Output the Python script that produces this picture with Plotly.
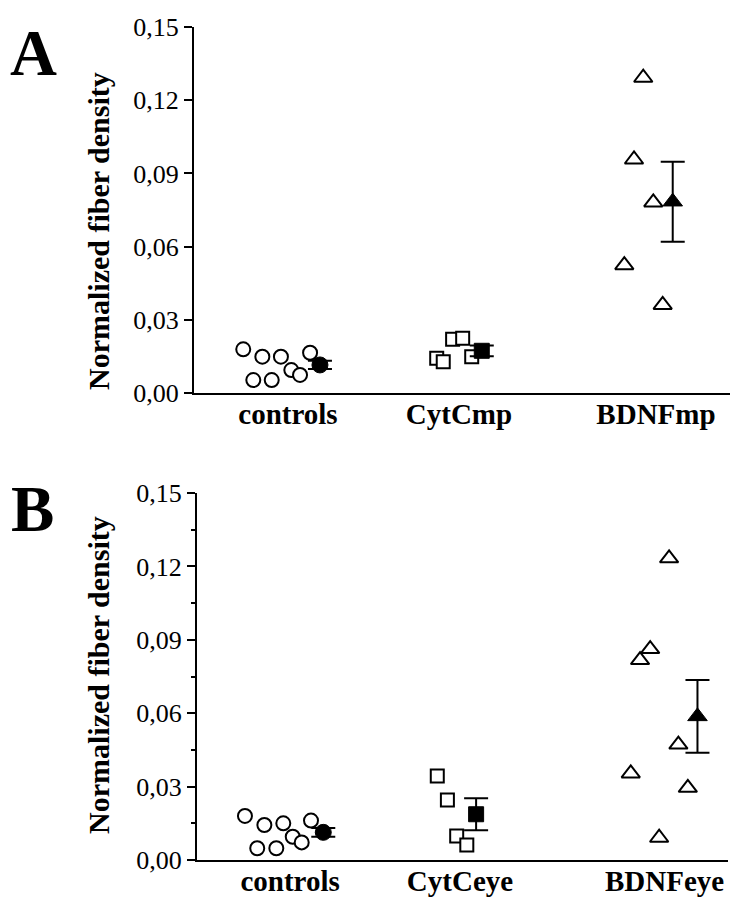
import plotly.graph_objects as go

# ---------------- data ----------------
cats_A = ["controls", "CytCmp", "BDNFmp"]
cats_B = ["controls", "CytCeye", "BDNFeye"]
cat_pos_A = [0.961, 1.982, 3.158]
cat_pos_B = [0.961, 1.985, 3.218]

y_ticks = [0.00, 0.03, 0.06, 0.09, 0.12, 0.15]
y_ticklabels = ["0,00", "0,03", "0,06", "0,09", "0,12", "0,15"]
y_minor_ticks = [0.015, 0.045, 0.075, 0.105, 0.135]

# Panel A
A_ctrl_x = [0.694, 0.808, 0.919, 1.093, 0.981, 1.033, 0.754, 0.864]
A_ctrl_y = [0.0179, 0.0149, 0.0149, 0.0165, 0.0094, 0.0074, 0.0053, 0.0053]
A_cytc_x = [1.849, 1.888, 1.944, 2.004, 2.058]
A_cytc_y = [0.0142, 0.0128, 0.0220, 0.0224, 0.0149]
A_bdnf_x = [3.082, 3.027, 3.142, 2.969, 3.198]
A_bdnf_y = [0.1292, 0.0957, 0.0781, 0.0524, 0.0361]
A_mean_x = [1.152, 2.118, 3.258]
A_mean_y = [0.0115, 0.0173, 0.0784]
A_sem = [0.0017, 0.0022, 0.0164]

# Panel B
B_ctrl_x = [0.689, 0.806, 0.920, 1.087, 0.977, 1.031, 0.763, 0.878]
B_ctrl_y = [0.0180, 0.0143, 0.0150, 0.0161, 0.0095, 0.0072, 0.0048, 0.0048]
B_cytc_x = [1.848, 1.909, 1.965, 2.026]
B_cytc_y = [0.0343, 0.0245, 0.0098, 0.0061]
B_bdnf_x = [3.245, 3.131, 3.070, 3.301, 3.014, 3.358, 3.185]
B_bdnf_y = [0.1233, 0.0862, 0.0817, 0.0472, 0.0354, 0.0295, 0.0091]
B_mean_x = [1.161, 2.082, 3.416]
B_mean_y = [0.0113, 0.0187, 0.0587]
B_sem = [0.0018, 0.0065, 0.0149]

symbols = ["circle", "square", "triangle-up"]
open_sizes = [14, 13, 16]
mean_sizes = [16, 15, 17]

# page has an 8px body margin; the figure fills the rest of the 740x900 window
OFF = 8
W, H = 740 - OFF, 900 - OFF

def px(x):
    return (x - OFF) / W

def py(y):
    return 1 - (y - OFF) / H

fig = go.Figure()

panels = [
    dict(xa="x", ya="y", groups=[(A_ctrl_x, A_ctrl_y), (A_cytc_x, A_cytc_y), (A_bdnf_x, A_bdnf_y)],
         mx=A_mean_x, my=A_mean_y, err=A_sem),
    dict(xa="x2", ya="y2", groups=[(B_ctrl_x, B_ctrl_y), (B_cytc_x, B_cytc_y), (B_bdnf_x, B_bdnf_y)],
         mx=B_mean_x, my=B_mean_y, err=B_sem),
]

for p in panels:
    for i, (gx, gy) in enumerate(p["groups"]):
        fig.add_trace(go.Scatter(
            x=gx, y=gy, mode="markers", xaxis=p["xa"], yaxis=p["ya"],
            marker=dict(symbol=symbols[i], size=open_sizes[i], color="white",
                        line=dict(color="black", width=2)),
            showlegend=False, cliponaxis=False))
    for i in range(3):
        fig.add_trace(go.Scatter(
            x=[p["mx"][i]], y=[p["my"][i]], mode="markers", xaxis=p["xa"], yaxis=p["ya"],
            marker=dict(symbol=symbols[i], size=mean_sizes[i], color="black",
                        line=dict(color="black", width=1)),
            error_y=dict(type="data", array=[p["err"][i]], color="black",
                         thickness=2, width=12),
            showlegend=False, cliponaxis=False))

serif = "Liberation Serif, Times New Roman, serif"

def xax(domain, pos, labels):
    return dict(domain=domain, range=[0.4, 3.6], showgrid=False, zeroline=False,
                automargin=False,
                showline=True, linecolor="black", linewidth=2,
                tickmode="array", tickvals=pos, ticktext=labels,
                ticks="", ticklabelstandoff=-6,
                tickfont=dict(family=serif, size=29, color="black", weight="bold"))

def yax(domain, anchor, minor=False):
    d = dict(domain=domain, anchor=anchor, range=[0, 0.15], showgrid=False, zeroline=False,
             automargin=False,
             showline=True, linecolor="black", linewidth=2,
             tickmode="array", tickvals=y_ticks, ticktext=y_ticklabels,
             ticks="outside", ticklen=8, tickwidth=1.5, tickcolor="black",
             tickfont=dict(family=serif, size=26, color="black"))
    if minor:
        d["minor"] = dict(ticks="outside", ticklen=4, tickwidth=1.5, tickcolor="black",
                          tickmode="array", tickvals=y_minor_ticks)
    return d

fig.update_layout(
    template="none",
    width=W, height=H, margin=dict(l=0, r=0, t=0, b=0, autoexpand=False),
    paper_bgcolor="white", plot_bgcolor="white",
    xaxis=dict(anchor="y", **xax([px(194), px(730)], cat_pos_A, cats_A)),
    yaxis=yax([py(393), py(27)], "x"),
    xaxis2=dict(anchor="y2", **xax([px(197), px(728)], cat_pos_B, cats_B)),
    yaxis2=yax([py(860), py(493)], "x2", minor=True),
)

annots = [
    dict(text="<b>A</b>", x=8.5, y=53, size=65, angle=0, anchor="left"),
    dict(text="<b>B</b>", x=9.5, y=509, size=65, angle=0, anchor="left"),
    dict(text="<b>Normalized fiber density</b>", x=98, y=231, size=30, angle=-90, anchor="center"),
    dict(text="<b>Normalized fiber density</b>", x=98, y=675, size=30, angle=-90, anchor="center"),
]
for a in annots:
    fig.add_annotation(text=a["text"], x=px(a["x"]), y=py(a["y"]), xref="paper", yref="paper",
                       xanchor=a["anchor"], yanchor="middle", showarrow=False, borderpad=0,
                       textangle=a["angle"], font=dict(family=serif, size=a["size"], color="black"))

fig.write_html("out.html")
